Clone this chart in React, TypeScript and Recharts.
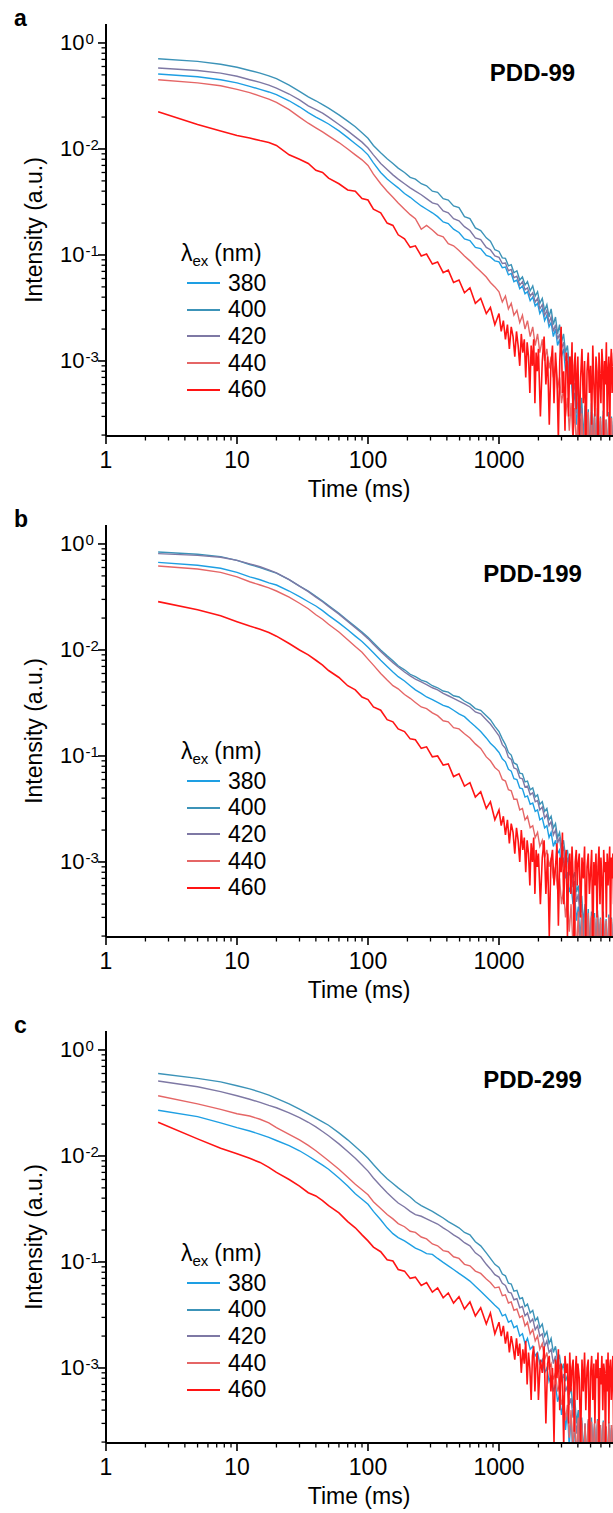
import React from 'react';
import { LineChart, Line, XAxis, YAxis, Legend } from 'recharts';

const FONT = 'Arial, "Liberation Sans", Helvetica, sans-serif';

// time axis (ms)
const TIME = [
  2.5, 5, 7.5, 10, 12.5, 15, 17.5, 20, 25, 30,
  35, 40, 45, 50, 60, 70, 80, 90, 100, 110,
  125, 140, 155, 170, 190, 210, 230, 255, 280, 310,
  340, 375, 410, 450, 495, 545, 600, 660, 725, 800,
  860, 930,
  1000, 1060, 1120, 1180, 1240, 1300, 1370, 1440, 1510, 1580,
  1650, 1730, 1810, 1890, 1970, 2050, 2140, 2230, 2320, 2410,
  2500, 2600, 2700, 2800, 2900, 3000, 3110, 3220, 3330, 3440,
  3550, 3670, 3790, 3910, 4030, 4150, 4280, 4410, 4540, 4670,
  4800, 4940, 5080, 5220, 5360, 5500, 5650, 5800, 5950, 6100,
  6250, 6410, 6570, 6730, 6890, 7050, 7220, 7390, 7560,
];

// the 460 nm traces are noisier, so their tail is sampled more finely
const RED_TIME = [
  2.5, 5, 7.5, 10, 12.5, 15, 17.5, 20, 25, 30,
  35, 40, 45, 50, 60, 70, 80, 90, 100, 110,
  125, 140, 155, 170, 190, 210, 230, 255, 280, 310,
  340, 375, 410, 450, 495, 545, 600, 660, 725, 800,
  860, 930,
  1000, 1040, 1080, 1120, 1160, 1200, 1240, 1280, 1320, 1360,
  1400, 1440, 1480, 1520, 1560, 1600, 1640, 1680, 1720, 1760,
  1800, 1840, 1880, 1920, 1960,
  2000, 2070, 2140, 2210, 2280, 2350, 2420, 2490, 2560, 2630,
  2700, 2770, 2840, 2910, 2980, 3050, 3120, 3190, 3260, 3330,
  3400, 3470, 3540, 3610, 3680, 3750, 3820, 3890, 3960,
  4000, 4100, 4200, 4300, 4400, 4500, 4600, 4700, 4800, 4900,
  5000, 5100, 5200, 5300, 5400, 5500, 5600, 5700, 5800, 5900,
  6000, 6100, 6200, 6300, 6400, 6500, 6600, 6700, 6800, 6900,
  7000, 7100, 7200, 7300, 7400, 7500, 7600,
];

const WAVELENGTHS = ['380', '400', '420', '440', '460'];
const COLORS = ['#1E9FE3', '#3C93B8', '#7E78A4', '#E56666', '#FF1414'];

// ---- PDD-99 ----
const A380 = [
  0.51, 0.48, 0.45, 0.42, 0.39, 0.365, 0.345, 0.325, 0.285, 0.25,
  0.22, 0.2, 0.185, 0.172, 0.148, 0.128, 0.112, 0.1, 0.088, 0.074,
  0.06, 0.052, 0.047, 0.043, 0.038, 0.035, 0.032, 0.029, 0.027, 0.025,
  0.023, 0.0205, 0.0198, 0.0175, 0.0163, 0.0142, 0.0137, 0.0118, 0.0115, 0.0099,
  0.0096, 0.0088,
  0.0086, 0.0076, 0.0077, 0.0065, 0.0067, 0.0056, 0.0058, 0.0048, 0.0051, 0.0043,
  0.0045, 0.0037, 0.004, 0.0033, 0.0035, 0.0028, 0.0031, 0.0024, 0.0027, 0.0021,
  0.0023, 0.0017, 0.002, 0.0014, 0.0016, 0.0011, 0.0013, 0.0008, 0.001, 0.0006,
  0.00072, 0.0004, 0.0005, 0.00025, 0.00038, 0.00018, 0.0003, 0.00012, 0.00027, 0.0001,
  0.00028, 0.00009, 0.0003, 0.00012, 0.00026, 0.00008, 0.00028, 0.0001, 0.00025, 0.00009,
  0.00027, 0.00011, 0.00024, 0.00008, 0.00026, 0.0001, 0.00025, 0.00009, 0.00024,
];
const A400 = [
  0.71, 0.67, 0.63, 0.59, 0.55, 0.52, 0.49, 0.46, 0.4, 0.35,
  0.31, 0.285, 0.262, 0.243, 0.21, 0.183, 0.162, 0.142, 0.126, 0.108,
  0.092, 0.081, 0.073, 0.066, 0.06, 0.054, 0.052, 0.047, 0.045, 0.04,
  0.039, 0.034, 0.033, 0.029, 0.028, 0.023, 0.022, 0.018, 0.017, 0.0145,
  0.0135, 0.0112,
  0.0108, 0.0094, 0.0093, 0.0079, 0.0081, 0.0068, 0.0071, 0.0058, 0.0062, 0.0052,
  0.0056, 0.0046, 0.0051, 0.0041, 0.0045, 0.0035, 0.0039, 0.003, 0.0034, 0.0026,
  0.0031, 0.0022, 0.0026, 0.0018, 0.0022, 0.0015, 0.0018, 0.0012, 0.0014, 0.0009,
  0.0011, 0.0006, 0.0008, 0.00042, 0.00058, 0.0003, 0.00045, 0.00018, 0.00038, 0.00015,
  0.00035, 0.00012, 0.0004, 0.00016, 0.00032, 0.0001, 0.00036, 0.00014, 0.0003, 0.00011,
  0.00034, 0.00015, 0.00028, 0.0001, 0.00033, 0.00013, 0.0003, 0.00012, 0.00029,
];
const A420 = [
  0.58, 0.55, 0.52, 0.485, 0.45, 0.425, 0.4, 0.375, 0.33, 0.29,
  0.255, 0.235, 0.218, 0.2, 0.17, 0.148, 0.13, 0.116, 0.102, 0.088,
  0.073, 0.064, 0.057, 0.052, 0.047, 0.043, 0.04, 0.037, 0.034, 0.031,
  0.03, 0.026, 0.025, 0.022, 0.021, 0.0185, 0.017, 0.0145, 0.014, 0.0118,
  0.0112, 0.0098,
  0.0095, 0.0083, 0.0084, 0.0071, 0.0073, 0.0061, 0.0063, 0.0052, 0.0056, 0.0047,
  0.0049, 0.0041, 0.0044, 0.0036, 0.0039, 0.0031, 0.0034, 0.0027, 0.003, 0.0023,
  0.0026, 0.0019, 0.0022, 0.0016, 0.0018, 0.0013, 0.0015, 0.001, 0.0012, 0.00075,
  0.0009, 0.0005, 0.00062, 0.00032, 0.00045, 0.00022, 0.00036, 0.00014, 0.0003, 0.00012,
  0.00031, 0.0001, 0.00033, 0.00013, 0.00029, 0.00009, 0.0003, 0.00012, 0.00027, 0.0001,
  0.0003, 0.00013, 0.00026, 0.00009, 0.00029, 0.00011, 0.00027, 0.0001, 0.00026,
];
const A440 = [
  0.45, 0.42, 0.395, 0.365, 0.34, 0.315, 0.295, 0.275, 0.235, 0.2,
  0.175, 0.158, 0.145, 0.133, 0.115, 0.1, 0.088, 0.079, 0.07, 0.058,
  0.047, 0.04, 0.035, 0.031, 0.027, 0.024, 0.022, 0.0175, 0.019, 0.0172,
  0.0155, 0.0148, 0.0128, 0.0122, 0.011, 0.0098, 0.0088, 0.0078, 0.007, 0.0062,
  0.0055, 0.005,
  0.0045, 0.0036, 0.0041, 0.0031, 0.0035, 0.0027, 0.003, 0.0023, 0.0027, 0.002,
  0.0024, 0.0017, 0.0021, 0.0014, 0.0018, 0.0012, 0.0016, 0.001, 0.0013, 0.00085,
  0.0011, 0.0007, 0.0009, 0.00055, 0.0007, 0.0004, 0.00055, 0.0003, 0.00045, 0.00022,
  0.0004, 0.00018, 0.00036, 0.00014, 0.00034, 0.00012, 0.00032, 0.0001, 0.0003, 0.00013,
  0.00033, 0.0001, 0.00031, 0.00012, 0.0003, 0.00009, 0.00032, 0.00011, 0.00029, 0.0001,
  0.00031, 0.00012, 0.00028, 0.00009, 0.0003, 0.00011, 0.00029, 0.0001, 0.00028,
];
const A460 = [
  0.225, 0.17, 0.148, 0.134, 0.127, 0.12, 0.115, 0.108, 0.088, 0.08,
  0.073, 0.063, 0.06, 0.053, 0.047, 0.041, 0.04, 0.034, 0.033, 0.027,
  0.025, 0.02, 0.019, 0.0155, 0.0142, 0.0118, 0.0122, 0.0098, 0.0102, 0.0082,
  0.0086, 0.0068, 0.0072, 0.0055, 0.0058, 0.0044, 0.0049, 0.0035, 0.0039, 0.0028,
  0.0032, 0.0022,
  0.0028, 0.0019, 0.0024, 0.0016, 0.0022, 0.0013, 0.0021, 0.0017, 0.0011, 0.0019,
  0.0014, 0.0009, 0.0018, 0.0012, 0.0016, 0.0007, 0.0015, 0.0011, 0.0005, 0.0014,
  0.0009, 0.0016, 0.0004, 0.0012, 0.0008,
  0.0013, 0.0003, 0.001, 0.0017, 0.0006, 0.0011, 0.00025, 0.0009, 0.0014, 0.0004,
  0.0012, 0.0007, 0.00018, 0.001, 0.0021, 0.0005, 0.0008, 0.00022, 0.0012, 0.0009,
  0.0003, 0.0011, 0.0006, 0.0015, 0.0002, 0.0009, 0.0012, 0.00035, 0.0008,
  0.0011, 0.0002, 0.0007, 0.0013, 0.0004, 0.001, 0.00015, 0.0008, 0.0012, 0.0005,
  0.0009, 0.00025, 0.0014, 0.0006, 0.0003, 0.0011, 0.0008, 0.0001, 0.0012, 0.0007,
  0.0004, 0.0013, 0.0009, 0.0002, 0.001, 0.0006, 0.0015, 0.0003, 0.0008, 0.0011,
  0.00018, 0.0009, 0.0013, 0.0005, 0.0007, 0.0012, 0.0003,
];

// ---- PDD-199 ----
const B380 = [
  0.67, 0.63, 0.59, 0.54, 0.49, 0.46, 0.43, 0.41, 0.36, 0.318,
  0.285, 0.26, 0.235, 0.212, 0.18, 0.155, 0.135, 0.12, 0.106, 0.094,
  0.08, 0.07, 0.062, 0.056, 0.051, 0.046, 0.042, 0.039, 0.036, 0.034,
  0.032, 0.03, 0.029, 0.027, 0.025, 0.0235, 0.021, 0.019, 0.017, 0.0148,
  0.0132, 0.012,
  0.0108, 0.0094, 0.0088, 0.0075, 0.0072, 0.0061, 0.006, 0.005, 0.0049, 0.0041,
  0.0042, 0.0035, 0.0036, 0.003, 0.0031, 0.0025, 0.0026, 0.0021, 0.0022, 0.0017,
  0.0019, 0.0014, 0.0016, 0.0012, 0.0013, 0.0009, 0.0011, 0.0007, 0.0008, 0.00052,
  0.0006, 0.0004, 0.00046, 0.00028, 0.00038, 0.00019, 0.00032, 0.00013, 0.00029, 0.0001,
  0.00028, 0.00009, 0.0003, 0.00011, 0.00027, 0.00008, 0.00029, 0.0001, 0.00026, 0.00009,
  0.00028, 0.00011, 0.00025, 0.00008, 0.00027, 0.0001, 0.00026, 0.00009, 0.00025,
];
const B400 = [
  0.84, 0.8, 0.76, 0.7, 0.64, 0.6, 0.56, 0.53, 0.46, 0.4,
  0.36, 0.32, 0.29, 0.262, 0.222, 0.19, 0.166, 0.148, 0.132, 0.117,
  0.1, 0.088, 0.079, 0.071, 0.065, 0.059, 0.056, 0.052, 0.05, 0.046,
  0.044, 0.041, 0.04, 0.037, 0.036, 0.033, 0.031, 0.028, 0.027, 0.024,
  0.022, 0.019,
  0.017, 0.0145, 0.0128, 0.0108, 0.0102, 0.0086, 0.0083, 0.0069, 0.0068, 0.0057,
  0.0058, 0.0048, 0.005, 0.0041, 0.0043, 0.0035, 0.0037, 0.003, 0.0032, 0.0025,
  0.0027, 0.0021, 0.0023, 0.0017, 0.0019, 0.0014, 0.0016, 0.0011, 0.0013, 0.0009,
  0.001, 0.0007, 0.0008, 0.00052, 0.0006, 0.00038, 0.00048, 0.00026, 0.0004, 0.00018,
  0.00036, 0.00014, 0.00034, 0.00012, 0.00033, 0.0001, 0.00035, 0.00013, 0.0003, 0.0001,
  0.00034, 0.00014, 0.00029, 0.0001, 0.00032, 0.00012, 0.0003, 0.00011, 0.00029,
];
const B420 = [
  0.81, 0.78, 0.75, 0.7, 0.65, 0.61, 0.57, 0.535, 0.46, 0.4,
  0.355, 0.315, 0.285, 0.258, 0.218, 0.186, 0.162, 0.144, 0.128, 0.113,
  0.097, 0.085, 0.076, 0.069, 0.062, 0.057, 0.053, 0.05, 0.047, 0.044,
  0.042, 0.039, 0.037, 0.035, 0.033, 0.031, 0.029, 0.026, 0.025, 0.022,
  0.02, 0.0175,
  0.0155, 0.0128, 0.0118, 0.0097, 0.0093, 0.0077, 0.0075, 0.0062, 0.0061, 0.0051,
  0.0052, 0.0043, 0.0045, 0.0037, 0.0038, 0.0031, 0.0033, 0.0026, 0.0028, 0.0022,
  0.0024, 0.0018, 0.002, 0.0015, 0.0017, 0.0012, 0.0014, 0.00095, 0.0011, 0.00075,
  0.00085, 0.00058, 0.00066, 0.00042, 0.0005, 0.0003, 0.0004, 0.0002, 0.00034, 0.00014,
  0.00031, 0.00011, 0.0003, 0.0001, 0.00029, 0.00009, 0.00031, 0.00011, 0.00027, 0.00009,
  0.0003, 0.00012, 0.00026, 0.00009, 0.00028, 0.0001, 0.00027, 0.0001, 0.00026,
];
const B440 = [
  0.62, 0.58, 0.54, 0.49, 0.44, 0.41, 0.385, 0.36, 0.315, 0.276,
  0.245, 0.215, 0.195, 0.175, 0.148, 0.125, 0.108, 0.095, 0.082, 0.072,
  0.06, 0.052, 0.046, 0.043, 0.038, 0.035, 0.032, 0.029, 0.028, 0.0255,
  0.024, 0.0215, 0.021, 0.0185, 0.018, 0.0162, 0.0148, 0.013, 0.0118, 0.0098,
  0.009, 0.0078,
  0.0072, 0.006, 0.0058, 0.0048, 0.0047, 0.0039, 0.0039, 0.0031, 0.0032, 0.0025,
  0.0027, 0.0021, 0.0022, 0.0017, 0.0019, 0.0014, 0.0016, 0.0011, 0.0013, 0.0009,
  0.0011, 0.0007, 0.0009, 0.00055, 0.0007, 0.0004, 0.00055, 0.0003, 0.00045, 0.00022,
  0.0004, 0.00016, 0.00036, 0.00013, 0.00034, 0.00011, 0.00032, 0.0001, 0.0003, 0.00012,
  0.00033, 0.0001, 0.00031, 0.00012, 0.0003, 0.00009, 0.00032, 0.00011, 0.00029, 0.0001,
  0.00031, 0.00012, 0.00028, 0.00009, 0.0003, 0.00011, 0.00029, 0.0001, 0.00028,
];
const B460 = [
  0.286, 0.24, 0.21, 0.185, 0.168, 0.157, 0.146, 0.135, 0.115, 0.1,
  0.09, 0.08, 0.072, 0.064, 0.055, 0.046, 0.042, 0.036, 0.034, 0.029,
  0.027, 0.022, 0.021, 0.018, 0.017, 0.0145, 0.0142, 0.0118, 0.0122, 0.0098,
  0.01, 0.0082, 0.0084, 0.0064, 0.0068, 0.0052, 0.0056, 0.0041, 0.0046, 0.0032,
  0.0037, 0.0025,
  0.0031, 0.0022, 0.0027, 0.0018, 0.0025, 0.0015, 0.0023, 0.0019, 0.0012, 0.0021,
  0.0016, 0.001, 0.002, 0.0013, 0.0017, 0.0008, 0.0016, 0.0012, 0.0006, 0.0015,
  0.001, 0.0017, 0.0005, 0.0013, 0.0009,
  0.0012, 0.0004, 0.0011, 0.0016, 0.0005, 0.0012, 0.0002, 0.001, 0.0013, 0.0006,
  0.0009, 0.0015, 0.00025, 0.0011, 0.0008, 0.0019, 0.0004, 0.001, 0.0013, 0.0002,
  0.0009, 0.0012, 0.0005, 0.0014, 0.0007, 0.00015, 0.001, 0.0013, 0.0006,
  0.0009, 0.0012, 0.0003, 0.0011, 0.0007, 0.0014, 0.0002, 0.0009, 0.0012, 0.0005,
  0.0008, 0.0013, 0.00015, 0.001, 0.0006, 0.0012, 0.0003, 0.0009, 0.0014, 0.0004,
  0.0011, 0.0007, 0.0002, 0.0013, 0.0008, 0.001, 0.0003, 0.0012, 0.0006, 0.0009,
  0.0014, 0.0002, 0.0011, 0.0007, 0.0012, 0.0004, 0.001,
];

// ---- PDD-299 ----
const C380 = [
  0.27, 0.235, 0.205, 0.185, 0.172, 0.16, 0.15, 0.14, 0.125, 0.112,
  0.1, 0.09, 0.082, 0.075, 0.062, 0.052, 0.044, 0.039, 0.035, 0.03,
  0.025, 0.021, 0.0185, 0.017, 0.0158, 0.0146, 0.0135, 0.0128, 0.012, 0.0118,
  0.0108, 0.0099, 0.0092, 0.0085, 0.0078, 0.0072, 0.0066, 0.0059, 0.0053, 0.0047,
  0.0043, 0.0039,
  0.0036, 0.0031, 0.0032, 0.0027, 0.0028, 0.0024, 0.0025, 0.002, 0.0021, 0.0017,
  0.0019, 0.0015, 0.0016, 0.0013, 0.0014, 0.0011, 0.0012, 0.0009, 0.001, 0.00075,
  0.00085, 0.0006, 0.0007, 0.00048, 0.00056, 0.00036, 0.00048, 0.00026, 0.0004, 0.00018,
  0.00036, 0.00014, 0.00033, 0.00011, 0.0003, 0.0001, 0.0003, 0.00009, 0.00028, 0.00011,
  0.0003, 0.00009, 0.00029, 0.00011, 0.00027, 0.00008, 0.00029, 0.0001, 0.00026, 0.00009,
  0.00028, 0.00011, 0.00025, 0.00008, 0.00027, 0.0001, 0.00026, 0.00009, 0.00025,
];
const C400 = [
  0.6, 0.54, 0.5, 0.46, 0.43, 0.4, 0.375, 0.35, 0.31, 0.276,
  0.25, 0.228, 0.21, 0.195, 0.165, 0.142, 0.123, 0.108, 0.095, 0.083,
  0.07, 0.061, 0.055, 0.05, 0.045, 0.041, 0.037, 0.034, 0.032, 0.03,
  0.028, 0.026, 0.024, 0.0225, 0.021, 0.019, 0.018, 0.0155, 0.0142, 0.0122,
  0.0108, 0.0095,
  0.0089, 0.0077, 0.0074, 0.0063, 0.0062, 0.0053, 0.0054, 0.0045, 0.0046, 0.0038,
  0.004, 0.0033, 0.0035, 0.0028, 0.003, 0.0024, 0.0026, 0.002, 0.0022, 0.0017,
  0.0019, 0.0014, 0.0016, 0.0012, 0.0013, 0.00095, 0.0011, 0.00075, 0.00085, 0.00056,
  0.00065, 0.00042, 0.0005, 0.0003, 0.0004, 0.00021, 0.00034, 0.00015, 0.0003, 0.00011,
  0.00032, 0.0001, 0.00034, 0.00013, 0.0003, 0.00009, 0.00033, 0.00012, 0.00029, 0.0001,
  0.00032, 0.00013, 0.00028, 0.00009, 0.00031, 0.00011, 0.00029, 0.0001, 0.00028,
];
const C420 = [
  0.51, 0.45, 0.405, 0.37, 0.343, 0.32, 0.3, 0.285, 0.255, 0.23,
  0.208, 0.188, 0.17, 0.155, 0.13, 0.11, 0.095, 0.082, 0.072, 0.062,
  0.052, 0.045, 0.04, 0.036, 0.033, 0.03, 0.028, 0.027, 0.0255, 0.024,
  0.0228, 0.021, 0.0196, 0.018, 0.0168, 0.0152, 0.0142, 0.0122, 0.0112, 0.0095,
  0.0086, 0.0076,
  0.0072, 0.0063, 0.006, 0.0052, 0.0051, 0.0044, 0.0045, 0.0037, 0.0038, 0.0031,
  0.0033, 0.0027, 0.0029, 0.0023, 0.0025, 0.002, 0.0021, 0.0016, 0.0018, 0.0014,
  0.0015, 0.0011, 0.0013, 0.00095, 0.00105, 0.00075, 0.00088, 0.0006, 0.00068, 0.00045,
  0.00052, 0.00034, 0.0004, 0.00024, 0.00033, 0.00017, 0.0003, 0.00012, 0.00028, 0.0001,
  0.0003, 0.00009, 0.00031, 0.00012, 0.00028, 0.00008, 0.0003, 0.00011, 0.00027, 0.00009,
  0.0003, 0.00012, 0.00026, 0.00008, 0.00029, 0.0001, 0.00027, 0.00009, 0.00026,
];
const C440 = [
  0.37, 0.31, 0.275, 0.25, 0.238, 0.222, 0.205, 0.185, 0.16, 0.142,
  0.126, 0.112, 0.1, 0.09, 0.075, 0.063, 0.054, 0.048, 0.043, 0.037,
  0.032, 0.028, 0.0255, 0.023, 0.0215, 0.0195, 0.019, 0.0172, 0.0165, 0.0148,
  0.0142, 0.0128, 0.0125, 0.0112, 0.0108, 0.0095, 0.0092, 0.0082, 0.0078, 0.0069,
  0.0064, 0.0057,
  0.0058, 0.0048, 0.0049, 0.0041, 0.0042, 0.0035, 0.0036, 0.003, 0.0031, 0.0025,
  0.0027, 0.0021, 0.0023, 0.0018, 0.002, 0.0015, 0.0017, 0.0012, 0.0014, 0.001,
  0.0011, 0.00078, 0.0009, 0.0006, 0.0007, 0.00045, 0.00055, 0.00032, 0.00045, 0.00022,
  0.0004, 0.00016, 0.00036, 0.00013, 0.00034, 0.00011, 0.00032, 0.0001, 0.0003, 0.00012,
  0.00033, 0.0001, 0.00031, 0.00012, 0.0003, 0.00009, 0.00032, 0.00011, 0.00029, 0.0001,
  0.00031, 0.00012, 0.00028, 0.00009, 0.0003, 0.00011, 0.00029, 0.0001, 0.00028,
];
const C460 = [
  0.208, 0.145, 0.118, 0.105, 0.095, 0.087, 0.078, 0.07, 0.06, 0.052,
  0.045, 0.042, 0.038, 0.034, 0.029, 0.024, 0.021, 0.018, 0.0158, 0.0138,
  0.0125, 0.0105, 0.0102, 0.0085, 0.0082, 0.007, 0.0072, 0.006, 0.0064, 0.0052,
  0.0057, 0.0046, 0.0051, 0.0041, 0.0047, 0.0036, 0.0042, 0.0031, 0.0037, 0.0026,
  0.0033, 0.0021,
  0.0027, 0.002, 0.0025, 0.0017, 0.0022, 0.0014, 0.002, 0.0016, 0.0012, 0.0019,
  0.0013, 0.0017, 0.0009, 0.0015, 0.0011, 0.0018, 0.0007, 0.0014, 0.001, 0.0005,
  0.0013, 0.0016, 0.0006, 0.0011, 0.0014,
  0.0005, 0.0012, 0.0009, 0.0016, 0.0003, 0.0011, 0.0013, 0.0006, 0.001, 0.0002,
  0.0012, 0.0008, 0.0015, 0.0004, 0.0011, 0.0007, 0.00018, 0.0013, 0.0009, 0.0011,
  0.0003, 0.0014, 0.0006, 0.001, 0.0012, 0.00025, 0.0009, 0.0013, 0.0005,
  0.0011, 0.0008, 0.0002, 0.0012, 0.0006, 0.0014, 0.0004, 0.001, 0.0012, 0.00015,
  0.0009, 0.0013, 0.0005, 0.0011, 0.0003, 0.0012, 0.0008, 0.0014, 0.0002, 0.001,
  0.0007, 0.0013, 0.0004, 0.0011, 0.0009, 0.00018, 0.0012, 0.0006, 0.0014, 0.0003,
  0.001, 0.0012, 0.0005, 0.0009, 0.0013, 0.0002, 0.0011,
];

// axis ticks
const X_TICKS = [
  1, 2, 3, 4, 5, 6, 7, 8, 9,
  10, 20, 30, 40, 50, 60, 70, 80, 90,
  100, 200, 300, 400, 500, 600, 700, 800, 900,
  1000, 2000, 3000, 4000, 5000, 6000, 7000,
];
const X_MAJOR = [1, 10, 100, 1000];
const Y_TICKS = [
  0.0002, 0.0003, 0.0004, 0.0005, 0.0006, 0.0007, 0.0008, 0.0009,
  0.001, 0.002, 0.003, 0.004, 0.005, 0.006, 0.007, 0.008, 0.009,
  0.01, 0.02, 0.03, 0.04, 0.05, 0.06, 0.07, 0.08, 0.09,
  0.1, 0.2, 0.3, 0.4, 0.5, 0.6, 0.7, 0.8, 0.9,
  1,
];
const Y_MAJOR = [1, 0.1, 0.01, 0.001];
// exponents exactly as printed on the original axis
const Y_EXPONENTS = ['0', '-2', '-1', '-3'];

const X_DOMAIN = [1, 7418];
const Y_DOMAIN = [0.000196, 1.51];

const XTick = (props: any) => {
  const { x, y, payload } = props;
  const v = payload.value;
  const major = X_MAJOR.includes(v);
  return (
    <g>
      <line x1={x} x2={x} y1={y} y2={y + (major ? 8 : 4.5)} stroke="#000" strokeWidth={major ? 1.6 : 1.3} />
      {major && (
        <text x={x} y={y + 32} textAnchor="middle" fontSize={23} fontFamily={FONT} fill="#000">
          {v}
        </text>
      )}
    </g>
  );
};

const YTick = (props: any) => {
  const { x, y, payload } = props;
  const idx = Y_MAJOR.indexOf(payload.value);
  const major = idx >= 0;
  return (
    <g>
      <line x1={x - (major ? 8 : 4.5)} x2={x} y1={y} y2={y} stroke="#000" strokeWidth={major ? 1.6 : 1.3} />
      {major && (
        <text x={x - 46} y={y + 7} textAnchor="start" fontSize={22} fontFamily={FONT} fill="#000">
          10
          <tspan dx={1} dy={-6} fontSize={15}>{Y_EXPONENTS[idx]}</tspan>
        </text>
      )}
    </g>
  );
};

const LegendBox = (props: any) => {
  const { payload } = props;
  return (
    <div style={{ fontFamily: FONT, color: '#000', fontSize: 23, lineHeight: 1 }}>
      <div style={{ height: 34, display: 'flex', alignItems: 'center', whiteSpace: 'nowrap' }}>
        <span>λ</span>
        <span style={{ fontSize: 15, position: 'relative', top: 7 }}>ex</span>
        <span style={{ marginLeft: 6 }}>(nm)</span>
      </div>
      {(payload || []).map((p: any) => (
        <div key={p.value} style={{ height: 26.6, display: 'flex', alignItems: 'center' }}>
          <span style={{ width: 33, height: 2, background: p.color, marginLeft: 6, display: 'inline-block' }} />
          <span style={{ marginLeft: 8 }}>{p.value}</span>
        </div>
      ))}
    </div>
  );
};

type PanelProps = {
  letter: string;
  title: string;
  top: number;
  legendTop: number;
  series: number[][];
};

const Panel = ({ letter, title, top, legendTop, series }: PanelProps) => {
  const data = TIME.map((t, i) => {
    const row: Record<string, number> = { t };
    WAVELENGTHS.slice(0, 4).forEach((w, k) => {
      row[w] = series[k][i];
    });
    return row;
  });
  const redData = RED_TIME.map((t, i) => ({ t, '460': series[4][i] }));

  return (
    <div style={{ position: 'absolute', left: 0, top, width: 613, height: 512 }}>
      <LineChart width={613} height={512} data={data} margin={{ top: 24, right: 0, bottom: 0, left: 0 }}>
        <XAxis
          dataKey="t"
          type="number"
          scale="log"
          domain={X_DOMAIN}
          allowDataOverflow
          ticks={X_TICKS}
          interval={0}
          tickSize={0}
          tickMargin={0}
          tickLine={false}
          tick={<XTick />}
          height={76}
          axisLine={{ stroke: '#000', strokeWidth: 2 }}
          label={{
            content: () => (
              <text x={359} y={497} textAnchor="middle" fontSize={23} fontFamily={FONT} fill="#000">
                Time (ms)
              </text>
            ),
          }}
        />
        <XAxis
          xAxisId="top"
          orientation="top"
          dataKey="t"
          type="number"
          scale="log"
          domain={X_DOMAIN}
          allowDataOverflow
          tick={false}
          tickLine={false}
          height={0}
          axisLine={{ stroke: '#333', strokeWidth: 2 }}
        />
        <YAxis
          type="number"
          scale="log"
          domain={Y_DOMAIN}
          allowDataOverflow
          ticks={Y_TICKS}
          interval={0}
          tickSize={0}
          tickMargin={0}
          tickLine={false}
          tick={<YTick />}
          width={106}
          axisLine={{ stroke: '#000', strokeWidth: 2 }}
          label={{
            content: () => (
              <text
                x={42}
                y={230}
                transform="rotate(-90 42 230)"
                textAnchor="middle"
                fontSize={23}
                fontFamily={FONT}
                fill="#000"
              >
                Intensity (a.u.)
              </text>
            ),
          }}
        />
        <Legend
          layout="vertical"
          align="center"
          verticalAlign="middle"
          content={<LegendBox />}
          wrapperStyle={{ left: 181, top: legendTop, width: 120, height: 170 }}
        />
        {WAVELENGTHS.map((w, k) => (
          <Line
            key={w}
            data={k === 4 ? redData : undefined}
            dataKey={w}
            name={w}
            type="linear"
            stroke={COLORS[k]}
            strokeWidth={k === 4 ? 1.6 : 1.4}
            dot={false}
            activeDot={false}
            isAnimationActive={false}
          />
        ))}
      </LineChart>
      <div
        style={{
          position: 'absolute',
          left: 14,
          top: 7,
          fontFamily: FONT,
          fontWeight: 'bold',
          fontSize: 23,
          lineHeight: '23px',
          color: '#000',
        }}
      >
        {letter}
      </div>
      <div
        style={{
          position: 'absolute',
          left: 432,
          width: 201,
          textAlign: 'center',
          top: 61,
          fontFamily: FONT,
          fontWeight: 'bold',
          fontSize: 24,
          lineHeight: '24px',
          color: '#000',
        }}
      >
        {title}
      </div>
    </div>
  );
};

export default function App() {
  return (
    <div style={{ position: 'absolute', left: 0, top: 0, width: 613, height: 1513, background: '#fff' }}>
      <Panel letter="a" title="PDD-99" top={0} legendTop={236} series={[A380, A400, A420, A440, A460]} />
      <Panel letter="b" title="PDD-199" top={501} legendTop={233} series={[B380, B400, B420, B440, B460]} />
      <Panel letter="c" title="PDD-299" top={1007} legendTop={229} series={[C380, C400, C420, C440, C460]} />
    </div>
  );
}
